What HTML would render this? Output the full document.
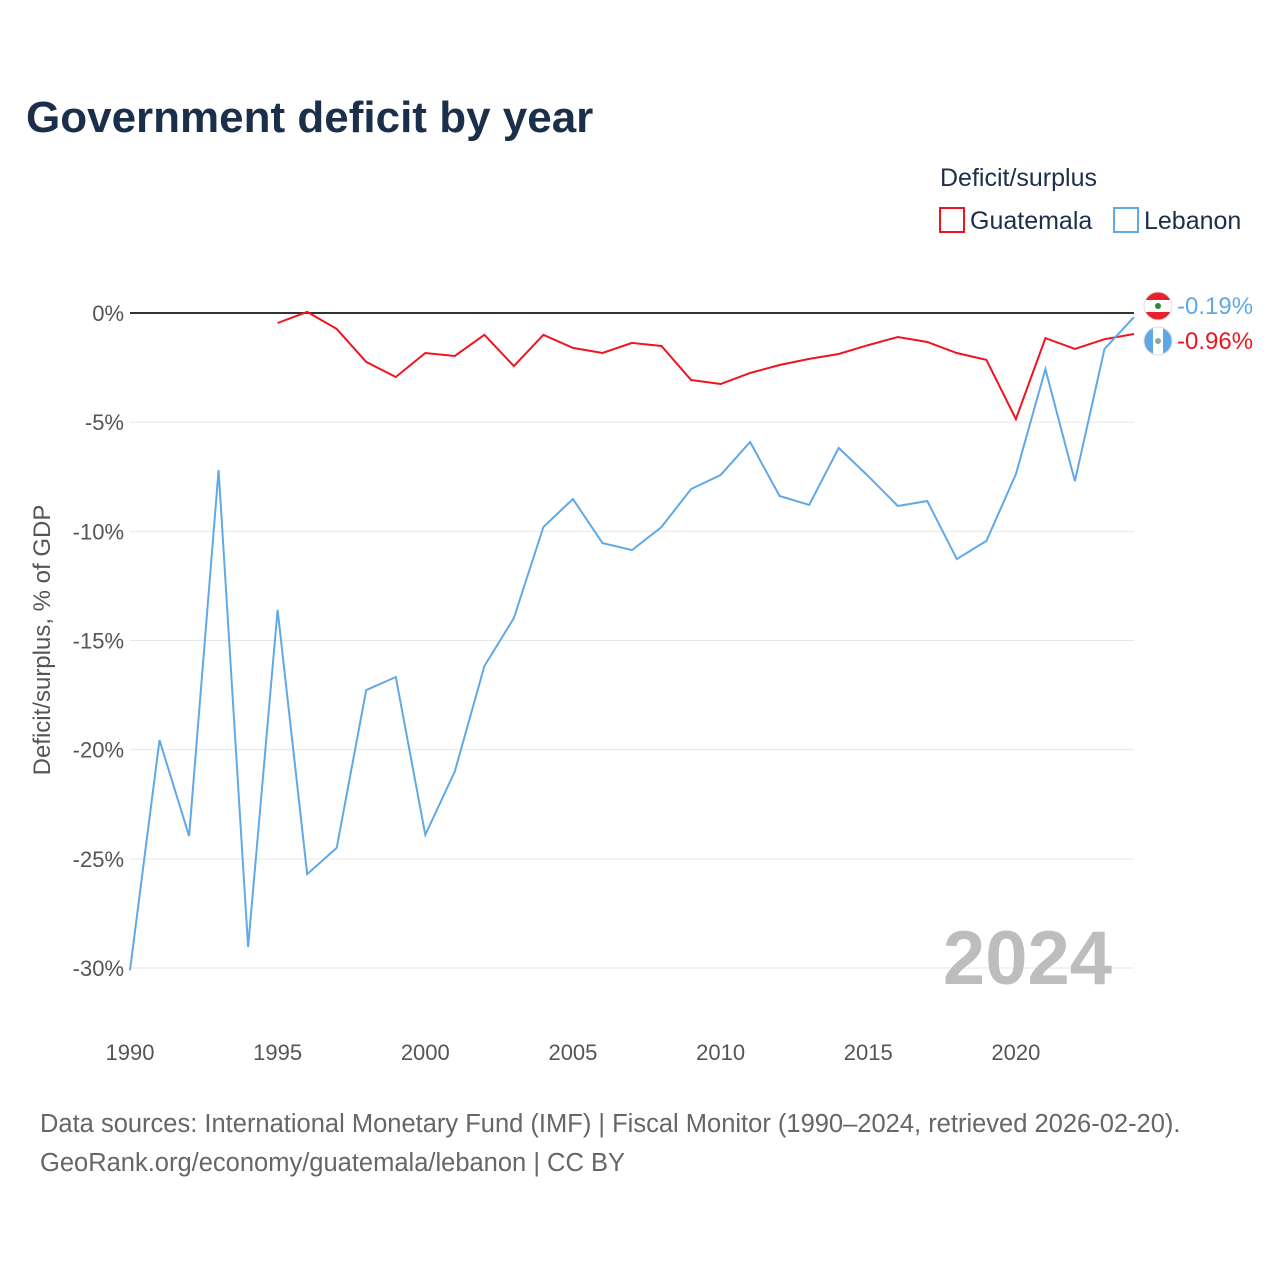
<!DOCTYPE html>
<html><head><meta charset="utf-8">
<style>
body{margin:0;background:#fff;width:1280px;height:1280px;overflow:hidden;font-family:"Liberation Sans",sans-serif;}
svg text{font-family:"Liberation Sans",sans-serif;}
</style></head>
<body>
<svg id="chart" width="1280" height="1280" xmlns="http://www.w3.org/2000/svg">
<defs>
<clipPath id="clipLb"><circle cx="1158" cy="306" r="14"/></clipPath>
<clipPath id="clipGt"><circle cx="1158" cy="341" r="14"/></clipPath>
</defs>
<text x="26" y="132" font-size="44" font-weight="bold" fill="#1b2f4a">Government deficit by year</text>
<text x="940" y="186" font-size="25" fill="#1b2f4a">Deficit/surplus</text>
<g><rect x="940" y="208" width="24" height="24" fill="none" stroke="#f0141e" stroke-width="2"/><text x="970" y="229" font-size="25" fill="#1b2f4a">Guatemala</text></g>
<g><rect x="1114" y="208" width="24" height="24" fill="none" stroke="#60a8e8" stroke-width="2"/><text x="1144" y="229" font-size="25" fill="#1b2f4a">Lebanon</text></g>
<g id="grid"></g><g id="yticks"></g><g id="xticks"></g>
<text transform="translate(50,640) rotate(-90)" text-anchor="middle" font-size="24" fill="#555">Deficit/surplus, % of GDP</text>
<text x="1112" y="984" text-anchor="end" font-size="76" font-weight="bold" fill="#bdbdbd">2024</text>
<g id="series"></g>
<text x="40" y="1132" font-size="25.5" fill="#666">Data sources: International Monetary Fund (IMF) | Fiscal Monitor (1990–2024, retrieved 2026-02-20).</text>
<text x="40" y="1171" font-size="25.5" fill="#666">GeoRank.org/economy/guatemala/lebanon | CC BY</text>
</svg>
<script>
const years=[];for(let y=1990;y<=2024;y++)years.push(y);
const lebanon=[-30.1,-19.56,-23.96,-7.19,-29.04,-13.6,-25.7,-24.5,-17.27,-16.67,-23.9,-21.0,-16.17,-13.97,-9.8,-8.52,-10.54,-10.86,-9.8,-8.06,-7.42,-5.91,-8.38,-8.79,-6.18,-7.47,-8.84,-8.61,-11.27,-10.44,-7.38,-2.57,-7.7,-1.65,-0.19];
const guatemala=[null,null,null,null,null,-0.46,0.05,-0.73,-2.24,-2.93,-1.83,-1.97,-1.0,-2.43,-1.0,-1.6,-1.83,-1.37,-1.51,-3.07,-3.25,-2.75,-2.38,-2.1,-1.88,-1.47,-1.1,-1.33,-1.83,-2.15,-4.86,-1.15,-1.65,-1.2,-0.96];
const yTicks=[0,-5,-10,-15,-20,-25,-30];
const xTicks=[1990,1995,2000,2005,2010,2015,2020];
const NS="http://www.w3.org/2000/svg";
const xs=y=>130+(y-1990)*(1134-130)/34;
const ys=v=>313+(-v)*(968-313)/30;
function mk(tag,attrs,parent){const e=document.createElementNS(NS,tag);for(const k in attrs)e.setAttribute(k,attrs[k]);parent.appendChild(e);return e;}
const grid=document.getElementById('grid'),yt=document.getElementById('yticks'),xt=document.getElementById('xticks'),ser=document.getElementById('series');
yTicks.forEach(v=>{
 const l=mk('line',{x1:130,x2:1134,y1:ys(v),y2:ys(v),stroke:v===0?'#333':'#e6e6e6','stroke-width':v===0?2:1},grid);
 
 
 const t=mk('text',{x:124,y:ys(v)+8,'text-anchor':'end','font-size':22,fill:'#555'},yt);t.textContent=v+'%';
 
 
});
xTicks.forEach(y=>{
 const t=mk('text',{x:xs(y),y:1060,'text-anchor':'middle','font-size':22,fill:'#555'},xt);t.textContent=y;
 
 
});
function line(data,color,name){
 let d='';data.forEach((v,i)=>{if(v===null)return;d+=(d?'L':'M')+xs(years[i]).toFixed(1)+','+ys(v).toFixed(1);});
 const p=mk('path',{d:d,fill:'none',stroke:color,'stroke-width':2},ser);
 
 
}
line(guatemala,'#f0141e','guatemala-line');
line(lebanon,'#60a8e8','lebanon-line');
function endLabel(v,ly,color,name,flag){
 const g=mk('g',{},ser);
 
 
 const f=mk('g',{'clip-path':flag==='lb'?'url(#clipLb)':'url(#clipGt)'},g);
 mk('rect',{x:1144,y:ly-14,width:28,height:28,fill:'#fff'},f);
 if(flag==='lb'){mk('rect',{x:1144,y:ly-14,width:28,height:8,fill:'#e8212b'},f);mk('rect',{x:1144,y:ly+6,width:28,height:8,fill:'#e8212b'},f);mk('circle',{cx:1158,cy:ly,r:3,fill:'#2a8a3a'},f);}
 else{mk('rect',{x:1144,y:ly-14,width:9,height:28,fill:'#5fa8e3'},f);mk('rect',{x:1163,y:ly-14,width:9,height:28,fill:'#5fa8e3'},f);mk('circle',{cx:1158,cy:ly,r:3,fill:'#8a9'},f);}
 mk('circle',{cx:1158,cy:ly,r:14,fill:'none',stroke:'#ddd'},g);
 const t=mk('text',{x:1177,y:ly+8,'font-size':24,fill:color},g);t.textContent=v.toFixed(2)+'%';
}
endLabel(lebanon[lebanon.length-1],306,'#60a8e8','lebanon-end-label','lb');
endLabel(guatemala[guatemala.length-1],341,'#f0141e','guatemala-end-label','gt');
</script>
</body></html>
